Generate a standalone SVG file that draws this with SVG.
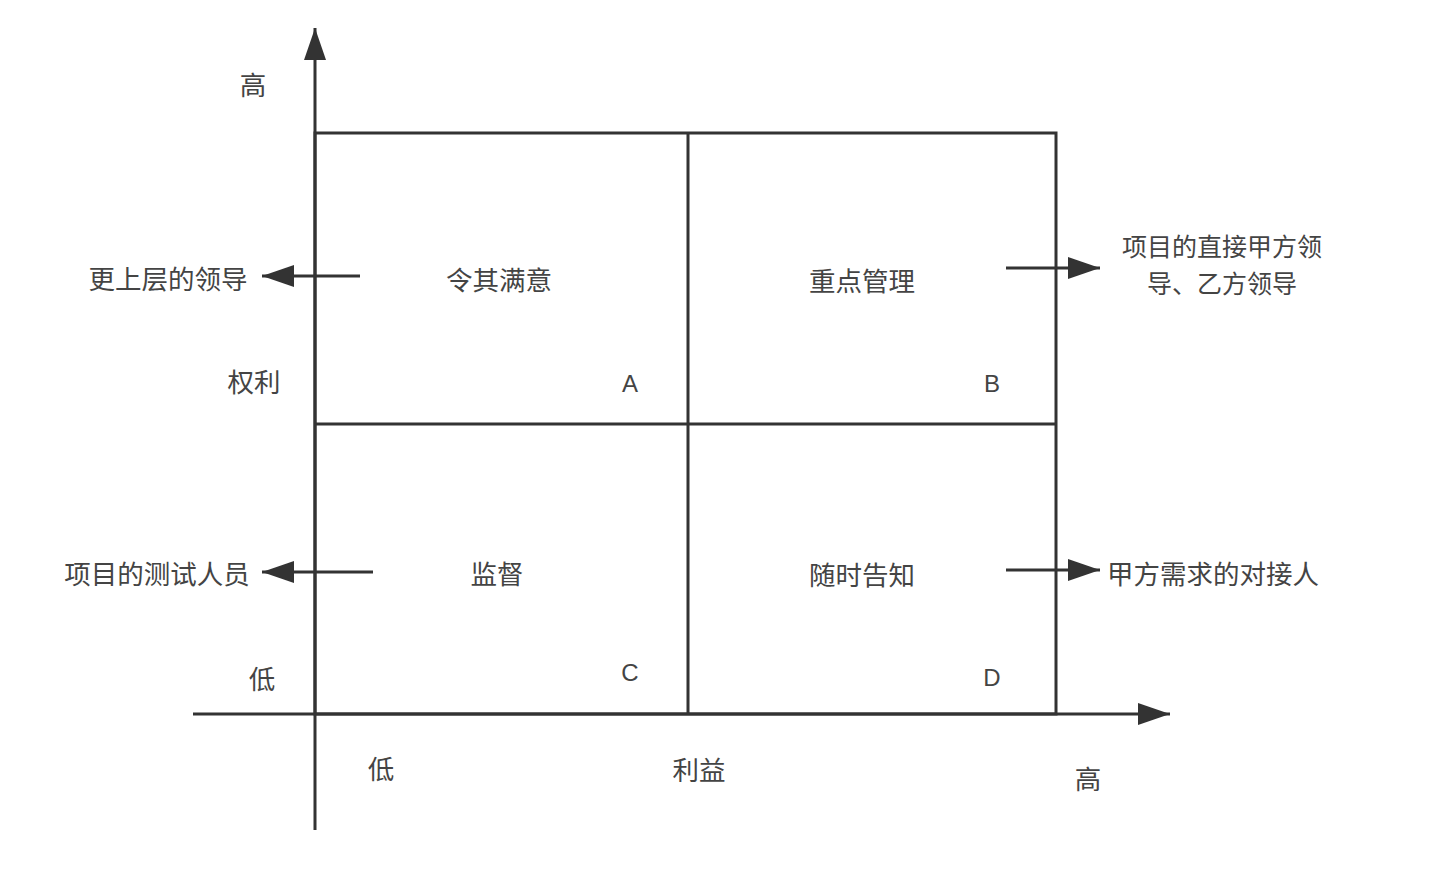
<svg xmlns="http://www.w3.org/2000/svg" width="1450" height="869" viewBox="0 0 1450 869">
<defs>
<style>
.ln{stroke:#333;stroke-width:3;fill:none}
.t{font-family:"Noto Sans CJK SC","Noto Sans",sans-serif;font-size:26.5px;fill:#444;text-anchor:middle;dominant-baseline:central}
.t2{font-family:"Noto Sans CJK SC","Noto Sans",sans-serif;font-size:25px;fill:#444;text-anchor:middle;dominant-baseline:central}
.l{font-family:"Liberation Sans","Noto Sans",sans-serif;font-size:24px;fill:#444;text-anchor:middle;dominant-baseline:central}
</style>
<marker id="ah" viewBox="0 0 32 22" refX="32" refY="11" markerWidth="32" markerHeight="22" markerUnits="userSpaceOnUse" orient="auto">
<path d="M0,0 L32,11 L0,22 Z" fill="#333"/>
</marker>
</defs>
<rect width="1450" height="869" fill="#fff"/>
<g id="grid">
<rect class="ln" x="315" y="133" width="741" height="581"/>
<line class="ln" x1="688" y1="133" x2="688" y2="714"/>
<line class="ln" x1="315" y1="424" x2="1056" y2="424"/>
</g>
<g id="connectors">
<line class="ln" x1="315" y1="830" x2="315" y2="28" marker-end="url(#ah)"/>
<line class="ln" x1="193" y1="714" x2="1170" y2="714" marker-end="url(#ah)"/>
<line class="ln" x1="360" y1="276" x2="262" y2="276" marker-end="url(#ah)"/>
<line class="ln" x1="373" y1="572" x2="262" y2="572" marker-end="url(#ah)"/>
<line class="ln" x1="1006" y1="268" x2="1100" y2="268" marker-end="url(#ah)"/>
<line class="ln" x1="1006" y1="570" x2="1100" y2="570" marker-end="url(#ah)"/>
</g>
<g id="axis-labels">
<text class="t" x="253" y="83">高</text>
<text class="t" x="254" y="380">权利</text>
<text class="t" x="262" y="677">低</text>
<text class="t" x="381" y="767">低</text>
<text class="t" x="699" y="768">利益</text>
<text class="t" x="1088" y="777">高</text>
</g>
<g id="qA"><text class="t" x="499" y="278">令其满意</text><text class="l" x="630" y="383">A</text></g>
<g id="qB"><text class="t" x="862" y="279">重点管理</text><text class="l" x="992" y="383">B</text></g>
<g id="qC"><text class="t" x="497" y="572">监督</text><text class="l" x="630" y="672">C</text></g>
<g id="qD"><text class="t" x="862" y="573">随时告知</text><text class="l" x="992" y="677">D</text></g>
<g id="n-upper"><text class="t" x="168" y="277">更上层的领导</text></g>
<g id="n-tester"><text class="t" x="157" y="572">项目的测试人员</text></g>
<g id="n-client"><text class="t2" x="1222" y="244.5">项目的直接甲方领</text><text class="t2" x="1222" y="281.5">导、乙方领导</text></g>
<g id="n-contact"><text class="t" x="1213" y="572">甲方需求的对接人</text></g>
</svg>
